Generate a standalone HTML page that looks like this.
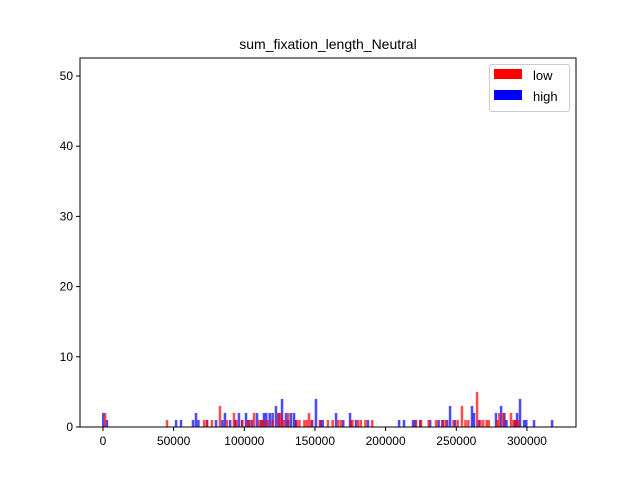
<!DOCTYPE html>
<html><head><meta charset="utf-8"><style>
body{margin:0;background:#fff;}
svg{display:block;font-family:"Liberation Sans","DejaVu Sans",sans-serif;}
</style></head><body>
<svg id="chart" width="640" height="480">
<rect width="640" height="480" fill="#fff"/>
<text x="328" y="49" text-anchor="middle" font-size="14">sum_fixation_length_Neutral</text>
<g id="bars"></g>
<g id="axes"></g>
<g>
<rect x="489.5" y="64.5" width="80" height="47" rx="2" fill="#fff" fill-opacity="0.8" stroke="#ccc"/>
<rect x="494" y="69" width="28" height="10" fill="#ff0000"/>
<text x="533" y="80" font-size="13">low</text>
<rect x="494" y="90" width="28" height="10" fill="#0000ff"/>
<text x="533" y="101" font-size="13">high</text>
</g>
</svg>
<script>
const lowX=[1500,45300,71500,73600,77100,82800,87700,92700,94500,98500,102500,104000,106900,110500,112500,113900,116500,120000,124000,126000,128000,131000,137000,139000,142500,144200,145800,147500,153500,159200,162500,166500,168500,175500,176500,180500,182500,185700,190500,221500,225000,230500,235700,240000,242500,248000,251000,254000,256500,258500,264700,267000,269000,271500,273000,279000,280500,283500,288700,290500,292000,294000];
const lowCounts=[2,1,1,1,1,3,1,2,1,1,1,1,2,1,1,1,1,1,2,2,1,2,1,1,1,1,2,1,1,1,1,1,1,1,1,1,1,1,1,1,1,1,1,1,1,1,1,3,1,1,5,1,1,1,1,1,2,2,2,1,1,1];
const highX=[200,2800,51700,55200,63700,65800,67500,73600,80000,84500,86300,90000,93500,96200,98500,101200,103000,105500,109000,112000,113900,115500,118000,120000,122400,124500,126700,129500,131000,133000,135200,136500,148000,150700,154000,155500,164900,170000,174800,179000,187500,209500,213000,219400,221000,224500,231500,237500,240500,243500,245600,249000,261100,262500,266000,278100,281700,284000,285500,291500,293000,295100,298000,299500,305000,317800];
const highCounts=[2,1,1,1,1,2,1,1,1,1,2,1,1,2,1,2,1,1,2,1,2,2,2,2,3,2,4,2,1,2,2,1,1,4,1,1,2,1,2,1,1,1,1,1,1,1,1,1,1,1,3,1,3,2,1,2,3,2,1,1,2,4,1,1,1,1];
const xTicks=[0,50000,100000,150000,200000,250000,300000];
const yTicks=[0,10,20,30,40,50];
const L=80,R=576,T=58,B=427;
const xMin=-16270,xMax=334700,yMax=52.56,binW=1800;
const xs=v=>L+(v-xMin)/(xMax-xMin)*(R-L);
const ys=v=>B-v/yMax*(B-T);
const NS="http://www.w3.org/2000/svg";
const bars=document.getElementById('bars');
function drawSeries(xa,ca,color,name){
  for(let i=0;i<xa.length;i++){
    const r=document.createElementNS(NS,'rect');
    const x0=xs(xa[i]-binW/2),x1=xs(xa[i]+binW/2);
    r.setAttribute('x',x0);r.setAttribute('width',x1-x0);
    r.setAttribute('y',ys(ca[i]));r.setAttribute('height',B-ys(ca[i]));
    r.setAttribute('fill',color);r.setAttribute('fill-opacity','0.7');
    
    
    bars.appendChild(r);
  }
}
drawSeries(highX,highCounts,'#0000ff','bar-high');
drawSeries(lowX,lowCounts,'#ff0000','bar-low');
const ax=document.getElementById('axes');
let h='<rect x="'+L+'" y="'+T+'" width="'+(R-L)+'" height="'+(B-T)+'" fill="none" stroke="#000" stroke-width="1"/>';
xTicks.forEach(t=>{const x=xs(t);h+='<line x1="'+x+'" x2="'+x+'" y1="'+B+'" y2="'+(B+4)+'" stroke="#000"/><text x="'+x+'" y="'+(B+18)+'" font-size="12" text-anchor="middle">'+t+'</text>';});
yTicks.forEach(t=>{const y=ys(t);h+='<line x1="'+(L-4)+'" x2="'+L+'" y1="'+y+'" y2="'+y+'" stroke="#000"/><text x="'+(L-7)+'" y="'+(y+4)+'" font-size="12" text-anchor="end">'+t+'</text>';});
ax.innerHTML=h;
</script>
</body></html>
